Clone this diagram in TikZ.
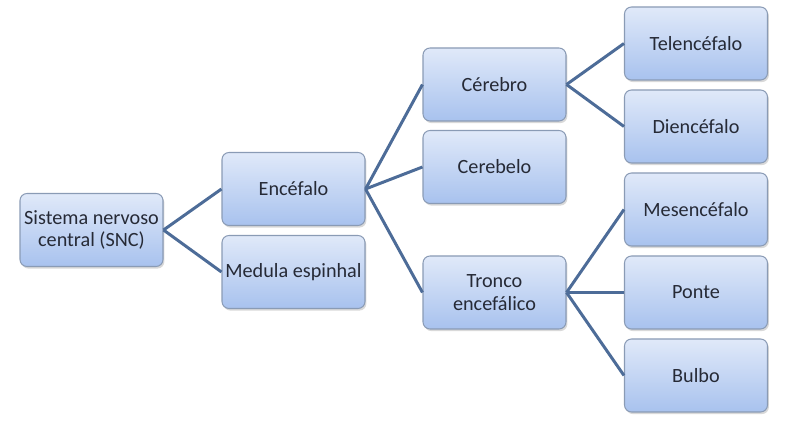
\documentclass[tikz,border=0pt]{standalone}
\usepackage{fontspec}
\setmainfont{Carlito}
\usetikzlibrary{shadows}

\definecolor{linkblue}{HTML}{4D6C98}
\definecolor{boxtop}{HTML}{E0E9F9}
\definecolor{boxbot}{HTML}{A8C2EE}
\definecolor{boxline}{HTML}{8A9BB5}
\definecolor{txt}{HTML}{262A36}

\begin{document}
\begin{tikzpicture}[
    every node/.style={font=\fontsize{11.5}{13}\selectfont, text=txt},
    part/.style={draw=boxline, line width=0.6pt, rounded corners=4pt, align=center,
        inner xsep=0.5pt, top color=boxtop, bottom color=boxbot,
        minimum width=2.86cm, minimum height=1.46cm,
        drop shadow={shadow xshift=0.8pt, shadow yshift=-1.2pt, opacity=0.3}},
    link/.style={draw=linkblue, line width=1.7pt}
]
\useasboundingbox (0,0) rectangle (15.72,-8.52);

\node[part] (snc) at (1.83,-4.60) {Sistema nervoso\\central (SNC)};
\node[part] (enc) at (5.87,-3.78) {Encéfalo};
\node[part] (med) at (5.87,-5.44) {Medula espinhal};
\node[part] (cer) at (9.89,-1.69) {Cérebro};
\node[part] (cbl) at (9.89,-3.34) {Cerebelo};
\node[part] (tro) at (9.89,-5.85) {Tronco\\encefálico};
\node[part] (tel) at (13.92,-0.87) {Telencéfalo};
\node[part] (die) at (13.92,-2.53) {Diencéfalo};
\node[part] (mes) at (13.92,-4.19) {Mesencéfalo};
\node[part] (pon) at (13.92,-5.85) {Ponte};
\node[part] (bul) at (13.92,-7.51) {Bulbo};

\foreach \x in {enc,med} \draw[link] (snc.east) -- (\x.west);
\foreach \x in {cer,cbl,tro} \draw[link] (enc.east) -- (\x.west);
\foreach \x in {tel,die} \draw[link] (cer.east) -- (\x.west);
\foreach \x in {mes,pon,bul} \draw[link] (tro.east) -- (\x.west);
\end{tikzpicture}
\end{document}
